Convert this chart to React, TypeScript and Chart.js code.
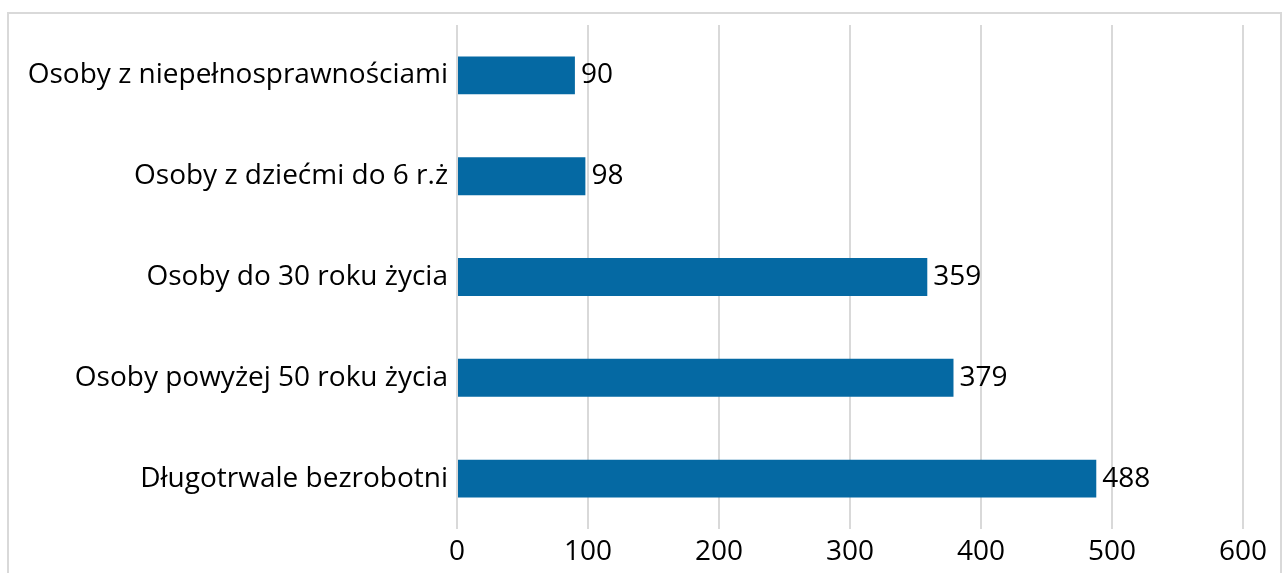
import React, { useEffect, useRef } from "react";
import { Chart, registerables } from "chart.js";

Chart.register(...registerables);

const categories = [
  "Osoby z niepełnosprawnościami",
  "Osoby z dziećmi do 6 r.ż",
  "Osoby do 30 roku życia",
  "Osoby powyżej 50 roku życia",
  "Długotrwale bezrobotni",
];
const values = [90, 98, 359, 379, 488];
const xTicks = [0, 100, 200, 300, 400, 500, 600];

const FONT = "'Open Sans', 'Liberation Sans', sans-serif";

const frame = {
  id: "frame",
  beforeDraw(chart: any) {
    const ctx = chart.ctx;
    ctx.save();
    ctx.strokeStyle = "#d9d9d9";
    ctx.lineWidth = 2;
    ctx.beginPath();
    ctx.moveTo(8, 600);
    ctx.lineTo(8, 13);
    ctx.lineTo(1281, 13);
    ctx.lineTo(1281, 600);
    ctx.stroke();
    ctx.restore();
  },
};

const valueLabels = {
  id: "valueLabels",
  afterDatasetsDraw(chart: any) {
    const ctx = chart.ctx;
    const meta = chart.getDatasetMeta(0);
    ctx.save();
    ctx.fillStyle = "#000";
    ctx.font = `28px ${FONT}`;
    ctx.textAlign = "left";
    ctx.textBaseline = "middle";
    meta.data.forEach((bar: any, i: number) => {
      ctx.fillText(String(values[i]), bar.x + 6, bar.y);
    });
    ctx.restore();
  },
};

export default function App() {
  const ref = useRef<HTMLCanvasElement>(null);
  useEffect(() => {
    if (!ref.current) return;
    const chart = new Chart(ref.current, {
      type: "bar",
      data: {
        labels: categories,
        datasets: [
          {
            data: values,
            backgroundColor: "#0569a3",
            barPercentage: 0.376,
            categoryPercentage: 1,
          },
        ],
      },
      options: {
        indexAxis: "y",
        animation: false,
        responsive: false,
        devicePixelRatio: 1,
        layout: { padding: { left: 0, right: 39, top: 25, bottom: 0 } },
        plugins: { legend: { display: false }, tooltip: { enabled: false } },
        scales: {
          x: {
            min: 0,
            max: 600,
            afterBuildTicks(scale: any) {
              scale.ticks = xTicks.map((v) => ({ value: v }));
            },
            afterFit(scale: any) {
              scale.height = 44;
            },
            grid: { color: "#d9d9d9", lineWidth: 2, tickLength: 0, drawTicks: false },
            border: { display: false },
            ticks: { color: "#000", font: { family: FONT, size: 28 }, padding: 6 },
          },
          y: {
            afterFit(scale: any) {
              scale.width = 457;
            },
            grid: { display: false },
            border: { display: false },
            ticks: { color: "#000", font: { family: FONT, size: 28 }, padding: 1 },
          },
        },
      },
      plugins: [frame, valueLabels],
    });
    return () => chart.destroy();
  }, []);
  return (
    <div style={{ position: "absolute", left: 0, top: 0, width: 1282, height: 573 }}>
      <canvas ref={ref} width={1282} height={573} style={{ width: 1282, height: 573 }} />
    </div>
  );
}
